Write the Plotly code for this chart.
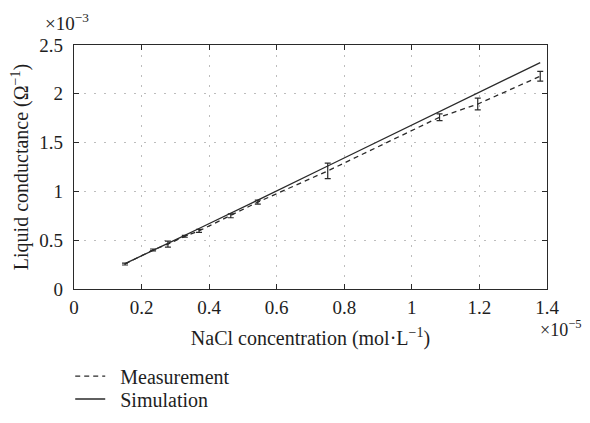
import plotly.graph_objects as go

# NaCl concentration, in units of 1e-5 mol/L
concentration = [0.151, 0.234, 0.278, 0.328, 0.370, 0.464, 0.544, 0.751, 1.082, 1.195, 1.380]
# Measured liquid conductance, in units of 1e-3 1/Ohm
measurement = [0.256, 0.40, 0.46, 0.54, 0.595, 0.75, 0.89, 1.21, 1.76, 1.895, 2.18]
measurement_err = [0.01, 0.01, 0.03, 0.01, 0.015, 0.02, 0.02, 0.08, 0.035, 0.06, 0.05]
# Simulated liquid conductance, in units of 1e-3 1/Ohm
simulation = [0.26, 0.40, 0.47, 0.55, 0.62, 0.78, 0.91, 1.26, 1.82, 2.01, 2.32]

x_ticks = [0, 0.2, 0.4, 0.6, 0.8, 1.0, 1.2, 1.4]
x_tick_labels = ["0", "0.2", "0.4", "0.6", "0.8", "1", "1.2", "1.4"]
y_ticks = [0, 0.5, 1.0, 1.5, 2.0, 2.5]
y_tick_labels = ["0", "0.5", "1", "1.5", "2", "2.5"]

FONT = "Liberation Serif"
INK = "#2a2a2a"
TXT = "#1e1e1e"
FS = 19
FT = 20
NB = "\u00a0\u00a0"

fig = go.Figure()
fig.add_trace(go.Scatter(
    x=concentration, y=measurement, mode="lines", name=NB + "Measurement",
    line=dict(color=INK, width=1.3, dash="5px,4px"),
    error_y=dict(type="data", array=measurement_err, visible=True,
                 color=INK, thickness=1.2, width=3),
    legend="legend",
))
fig.add_trace(go.Scatter(
    x=concentration, y=simulation, mode="lines", name=NB + "Simulation",
    line=dict(color=INK, width=1.3),
    legend="legend2",
))

axis_common = dict(
    showline=True, linecolor=INK, linewidth=1.2, mirror="ticks",
    ticks="inside", ticklen=5, tickcolor=INK,
    showgrid=True, gridcolor="#bdbdbd", griddash="2px,8px", gridwidth=1,
    zeroline=False, automargin=False,
    tickfont=dict(family=FONT, size=FS, color=TXT),
)

legend_common = dict(
    xanchor="left", yanchor="top",
    font=dict(family=FONT, size=FT, color=TXT),
    bgcolor="rgba(0,0,0,0)", itemwidth=30,
)

fig.update_layout(
    width=582, height=415,
    margin=dict(l=66, r=43, t=37, b=134, autoexpand=False),
    paper_bgcolor="white", plot_bgcolor="white",
    font=dict(family=FONT, color=TXT),
    xaxis=dict(range=[0, 1.4], tickvals=x_ticks, ticktext=x_tick_labels,
               ticklabelstandoff=1,
               title=dict(text="NaCl concentration (mol·L<sup>−1</sup>)",
                          font=dict(family=FONT, size=FT), standoff=14),
               **axis_common),
    yaxis=dict(range=[0, 2.5], tickvals=y_ticks, ticktext=y_tick_labels,
               ticklabelstandoff=6,
               title=dict(text="Liquid conductance (Ω<sup>−1</sup>)",
                          font=dict(family=FONT, size=FT), standoff=8),
               **axis_common),
    showlegend=True,
    legend=dict(x=-0.008, y=-0.277, **legend_common),
    legend2=dict(x=-0.008, y=-0.371, **legend_common),
    annotations=[
        dict(text="×10<sup>−3</sup>", xref="paper", yref="paper", x=-0.065, y=1.035,
             xanchor="left", yanchor="bottom", showarrow=False,
             font=dict(family=FONT, size=FS, color=TXT)),
        dict(text="×10<sup>−5</sup>", xref="paper", yref="paper", x=0.982, y=-0.105,
             xanchor="left", yanchor="top", showarrow=False,
             font=dict(family=FONT, size=18, color=TXT)),
    ],
)

fig.write_html("out.html")
